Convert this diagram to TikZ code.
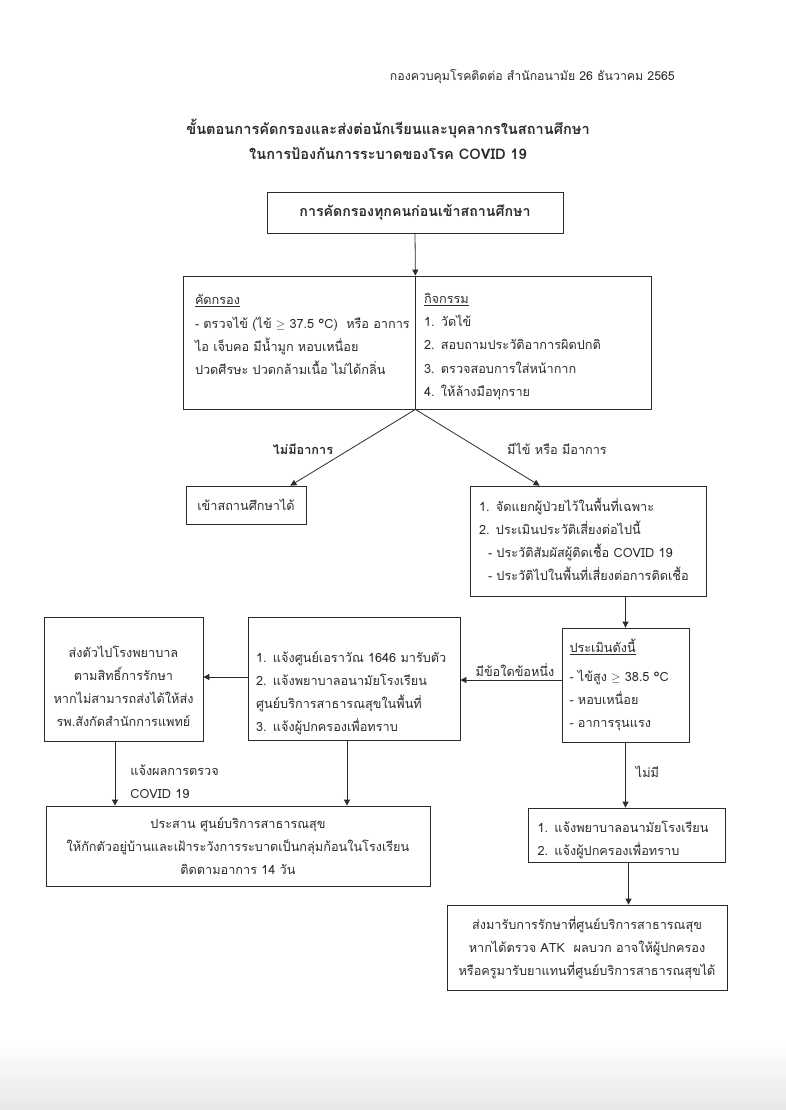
\documentclass[tikz,border=0pt]{standalone}
\usepackage{fontspec}
\newfontfamily\thai[Script=Thai]{Loma}
\usetikzlibrary{arrows.meta}
\definecolor{ink}{HTML}{2B2B2B}
\tikzset{
  box/.style={draw=ink, line width=0.8pt, inner sep=0pt, text=ink,
    font=\thai\fontsize{12.7}{22.9}\selectfont},
  lbox/.style={box, align=left},
  cbox/.style={box, align=center},
  arr/.style={draw=ink, line width=0.8pt, -{Triangle[width=6pt,length=6pt]}},
  lbl/.style={text=ink, font=\thai\fontsize{12.7}{22.9}\selectfont, inner sep=2pt},
}
\begin{document}
\begin{tikzpicture}[x=1pt,y=-1pt]
\useasboundingbox (0,0) rectangle (786,1110);
\shade[top color=white, bottom color=black!9] (0,1040) rectangle (786,1110);

% header
\node[lbl, anchor=east, font=\thai\fontsize{12.3}{14}\selectfont] (hdr) at (677,77)
  {กองควบคุมโรคติดต่อ สำนักอนามัย 26 ธันวาคม 2565};
\node[lbl, align=center, font=\thai\bfseries\fontsize{14.6}{25}\selectfont] (title) at (388,139)
  {ขั้นตอนการคัดกรองและส่งต่อนักเรียนและบุคลากรในสถานศึกษา\\ในการป้องกันการระบาดของโรค COVID 19};

% top box
\node[cbox, font=\thai\bfseries\fontsize{14.2}{22.7}\selectfont, minimum width=296pt, minimum height=41pt] (top) at (415,212.5)
  {การคัดกรองทุกคนก่อนเข้าสถานศึกษา};

% two-column box
\node[lbox, font=\thai\fontsize{12.7}{23.3}\selectfont, minimum width=232pt, minimum height=133pt, text width=208pt] (kl) at (299,342.5)
  {\rule{0pt}{18pt}\underline{คัดกรอง}\\
   \mbox{- ตรวจไข้ (ไข้ $\geq$ 37.5 °C)\ \ หรือ อาการ}\\
   ไอ เจ็บคอ มีน้ำมูก หอบเหนื่อย\\
   ปวดศีรษะ ปวดกล้ามเนื้อ ไม่ได้กลิ่น\\ \mbox{}};
\node[lbox, font=\thai\fontsize{12.7}{23.3}\selectfont, minimum width=236pt, minimum height=133pt, text width=218pt] (kr) at (533,342.5)
  {\rule{0pt}{18pt}\underline{กิจกรรม}\\
   1. วัดไข้\\
   2. สอบถามประวัติอาการผิดปกติ\\
   3. ตรวจสอบการใส่หน้ากาก\\
   4. ให้ล้างมือทุกราย};
\draw[arr] (top.south) -- (kl.north east);

% second level
\node[cbox, minimum width=120pt, minimum height=38pt] (enter) at (246,505)
  {เข้าสถานศึกษาได้};
\node[lbox, minimum width=236pt, minimum height=110pt, text width=218pt] (risk) at (588,541)
  {1. จัดแยกผู้ป่วยไว้ในพื้นที่เฉพาะ\\
   2. ประเมินประวัติเสี่ยงต่อไปนี้\\
   \hspace*{9pt}- ประวัติสัมผัสผู้ติดเชื้อ COVID 19\\
   \hspace*{9pt}- ประวัติไปในพื้นที่เสี่ยงต่อการติดเชื้อ\\[-20pt]\mbox{}};
\draw[arr] (kl.south east) -- ([xshift=-16pt]enter.north east);
\draw[arr] (kl.south east) -- ([xshift=70pt]risk.north west);
\node[lbl, font=\thai\bfseries\fontsize{12.7}{22.7}\selectfont] (no) at (303,449) {ไม่มีอาการ};
\node[lbl] (yes) at (557,449) {มีไข้ หรือ มีอาการ};

% evaluation
\node[lbox, minimum width=127pt, minimum height=114pt, text width=112pt] (eval) at (625.5,685)
  {\underline{ประเมินดังนี้}\\[6pt]
   - ไข้สูง $\geq$ 38.5 °C\\
   - หอบเหนื่อย\\
   - อาการรุนแรง};
\draw[arr] (eval.north |- risk.south) -- (eval.north);

\node[lbox, minimum width=212pt, minimum height=123pt, text width=196pt] (mid) at (354,678.5)
  {\mbox{}\\[17pt]
   1. แจ้งศูนย์เอราวัณ 1646 มารับตัว\\
   2. แจ้งพยาบาลอนามัยโรงเรียน\\
   ศูนย์บริการสาธารณสุขในพื้นที่\\
   3. แจ้งผู้ปกครองเพื่อทราบ};
\draw[arr] ([yshift=5pt]eval.west) -- node[lbl, above, yshift=1pt, xshift=4pt] (any) {มีข้อใดข้อหนึ่ง} ([yshift=5pt]eval.west -| mid.east);

\node[cbox, minimum width=159pt, minimum height=124pt] (hosp) at (123.5,679)
  {\rule{0pt}{26pt}ส่งตัวไปโรงพยาบาล\\
   ตามสิทธิ์การรักษา\\
   หากไม่สามารถส่งได้ให้ส่ง\\
   รพ.สังกัดสำนักการแพทย์};
\draw[arr] ([yshift=1.5pt]mid.west) -- ([yshift=1.5pt]mid.west -| hosp.east);

\node[cbox, minimum width=384pt, minimum height=80pt] (coord) at (238,846)
  {ประสาน ศูนย์บริการสาธารณสุข\\
   ให้กักตัวอยู่บ้านและเฝ้าระวังการระบาดเป็นกลุ่มก้อนในโรงเรียน\\
   ติดตามอาการ 14 วัน};
\draw[arr] ([xshift=-8.5pt]hosp.south) -- node[lbl, right, align=left, pos=0.6, xshift=13pt, yshift=-2pt] (res) {แจ้งผลการตรวจ\\COVID 19} ([xshift=-8.5pt]hosp.south |- coord.north);
\draw[arr] ([xshift=-7pt]mid.south) -- ([xshift=-7pt]mid.south |- coord.north);

% right bottom
\node[lbox, minimum width=197pt, minimum height=54pt, text width=178pt] (nfy) at (626.5,835)
  {\rule{0pt}{21pt}1. แจ้งพยาบาลอนามัยโรงเรียน\\
   2. แจ้งผู้ปกครองเพื่อทราบ};
\draw[arr] (eval.south) -- node[lbl, right, pos=0.45, xshift=8pt] (none) {ไม่มี} (eval.south |- nfy.north);

\node[cbox, minimum width=280pt, minimum height=85pt] (treat) at (587,947.5)
  {ส่งมารับการรักษาที่ศูนย์บริการสาธารณสุข\\
   หากได้ตรวจ ATK\ \ ผลบวก อาจให้ผู้ปกครอง\\
   หรือครูมารับยาแทนที่ศูนย์บริการสาธารณสุขได้};
\draw[arr] ([xshift=2pt]nfy.south) -- ([xshift=2pt]nfy.south |- treat.north);
\end{tikzpicture}
\end{document}
